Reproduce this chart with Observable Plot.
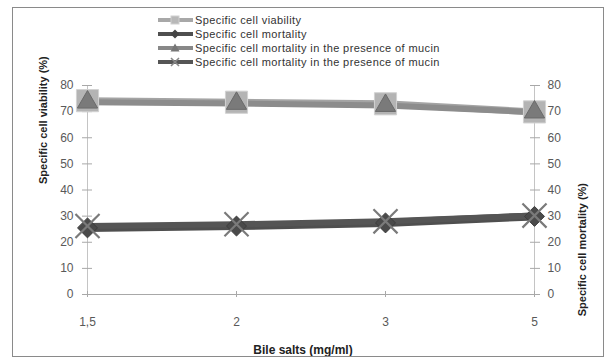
<!DOCTYPE html>
<html>
<head>
<meta charset="utf-8">
<script src="https://cdn.jsdelivr.net/npm/d3@7"></script>
<script src="https://cdn.jsdelivr.net/npm/@observablehq/plot@0.6"></script>
<style>
  html, body { margin: 0; padding: 0; background: #fff; }
  #wrap { position: relative; width: 608px; height: 363px; overflow: hidden; font-family: "Liberation Sans", Arial, sans-serif; }
  #border { position: absolute; left: 12px; top: 7px; width: 590px; height: 348px; border: 1px solid #8a8a8a; pointer-events: none; }
  #chart { position: absolute; left: 0; top: 0; }
  #legend { position: absolute; left: 158px; top: 13px; font-size: 11px; letter-spacing: 0.4px; color: #333; }
  .row { display: flex; align-items: center; height: 14px; white-space: nowrap; }
  .row svg { margin-right: 2px; }
</style>
</head>
<body>
<div id="wrap">
  <div id="chart"></div>
  <div id="legend"></div>
  <div id="border"></div>
</div>
<script>
// ---- data ----
const doses = ["1,5", "2", "3", "5"];
const seriesNames = [
  "Specific cell viability",
  "Specific cell mortality",
  "Specific cell mortality in the presence of mucin",
  "Specific cell mortality in the presence of mucin"
];
const viability = [74.2, 73.6, 73.0, 69.9];
const mortality = [25.5, 26.2, 27.4, 29.9];
const mucinMortalityTri = [73.6, 73.1, 72.3, 69.8];
const mucinMortalityX = [26.2, 26.9, 28.0, 30.2];
const yTicks = [0, 10, 20, 30, 40, 50, 60, 70, 80];
const xTitle = "Bile salts (mg/ml)";
const yLeftTitle = "Specific cell viability (%)";
const yRightTitle = "Specific cell mortality (%)";

// ---- build tables ----
const mk = (vals) => doses.map((d, i) => ({dose: d, value: vals[i]}));
const sViab = mk(viability);
const sMort = mk(mortality);
const sTri = mk(mucinMortalityTri);
const sX = mk(mucinMortalityX);

const axisColor = "#a8a8a8";
const labelColor = "#595959";

const chart = Plot.plot({
  width: 608,
  height: 363,
  marginLeft: 87,
  marginRight: 74,
  marginTop: 85,
  marginBottom: 69,
  style: {fontFamily: "'Liberation Sans', Arial, sans-serif", fontSize: "12px", background: "transparent"},
  x: {type: "point", domain: doses, padding: 0},
  y: {domain: [0, 80]},
  marks: [
    Plot.ruleX([doses[0], doses[doses.length - 1]], {x: d => d, stroke: "#c4c4c4", strokeWidth: 1}),
    Plot.ruleY([0], {stroke: axisColor, strokeWidth: 1.2}),
    Plot.axisY({anchor: "left", ticks: yTicks, tickSize: 10, dx: 5, tickPadding: 9, stroke: axisColor, fill: labelColor, fontSize: 12, label: null}),
    Plot.axisY({anchor: "right", ticks: yTicks, tickSize: 10, dx: -5, tickPadding: 8, stroke: axisColor, fill: labelColor, fontSize: 12, label: null}),
    Plot.axisX({anchor: "bottom", tickSize: 6, dy: -3, tickPadding: 20, stroke: axisColor, fill: labelColor, fontSize: 12, label: null}),
    // lines
    Plot.line(sViab, {x: "dose", y: "value", stroke: "#a4a4a4", strokeWidth: 7}),
    Plot.line(sTri, {x: "dose", y: "value", stroke: "#8c8c8c", strokeWidth: 6}),
    Plot.line(sMort, {x: "dose", y: "value", stroke: "#4f4f4f", strokeWidth: 8}),
    Plot.line(sX, {x: "dose", y: "value", stroke: "#555555", strokeWidth: 6}),
    // markers
    Plot.dot(sViab, {x: "dose", y: "value", symbol: "square", r: 12.5, fill: "#b4b4b4", stroke: "#d2d2d2", strokeWidth: 1}),
    Plot.dot(sTri, {x: "dose", y: "value", symbol: "triangle", r: 7.5, fill: "#7a7a7a", stroke: "#6a6a6a", strokeWidth: 1}),
    Plot.dot(sMort, {x: "dose", y: "value", symbol: "diamond2", r: 9, fill: "#4a4a4a", stroke: "#3c3c3c", strokeWidth: 1}),
    Plot.dot(sX, {x: "dose", y: "value", symbol: "times", r: 11, stroke: "#7a7a7a", strokeWidth: 2.2}),
    // axis titles
    Plot.text([yLeftTitle], {text: d => d, frameAnchor: "left", rotate: -90, dx: -44, dy: -6, fontWeight: "bold", fontSize: 11, fill: "#222"}),
    Plot.text([yRightTitle], {text: d => d, frameAnchor: "right", rotate: -90, dx: 48, dy: -7, fontWeight: "bold", fontSize: 11, fill: "#222"}),
    Plot.text([xTitle], {text: d => d, frameAnchor: "bottom", dy: 56, dx: -8, lineAnchor: "middle", fontWeight: "bold", fontSize: 12, fill: "#222"})
  ]
});
document.getElementById("chart").appendChild(chart);

// ---- legend ----
const legendStyles = [
  {line: "#a8a8a8", marker: "square", fill: "#b8b8b8"},
  {line: "#4f4f4f", marker: "diamond", fill: "#444"},
  {line: "#888888", marker: "triangle", fill: "#777"},
  {line: "#555555", marker: "times", fill: "#888"}
];
const legend = document.getElementById("legend");
seriesNames.forEach((name, i) => {
  const s = legendStyles[i];
  let m = "";
  if (s.marker === "square") m = `<rect x="13" y="2" width="8" height="8" fill="${s.fill}" stroke="#d0d0d0"/>`;
  if (s.marker === "diamond") m = `<path d="M17,1.5L21.5,6L17,10.5L12.5,6Z" fill="${s.fill}"/>`;
  if (s.marker === "triangle") m = `<path d="M17,1.5L21.5,9.5L12.5,9.5Z" fill="${s.fill}"/>`;
  if (s.marker === "times") m = `<path d="M13,2L21,10M21,2L13,10" stroke="${s.fill}" stroke-width="1.6"/>`;
  const row = document.createElement("div");
  row.className = "row";
  row.innerHTML = `<svg width="35" height="12"><line x1="0" y1="6" x2="35" y2="6" stroke="${s.line}" stroke-width="4"/>${m}</svg><span>${name}</span>`;
  legend.appendChild(row);
});
</script>
</body>
</html>
